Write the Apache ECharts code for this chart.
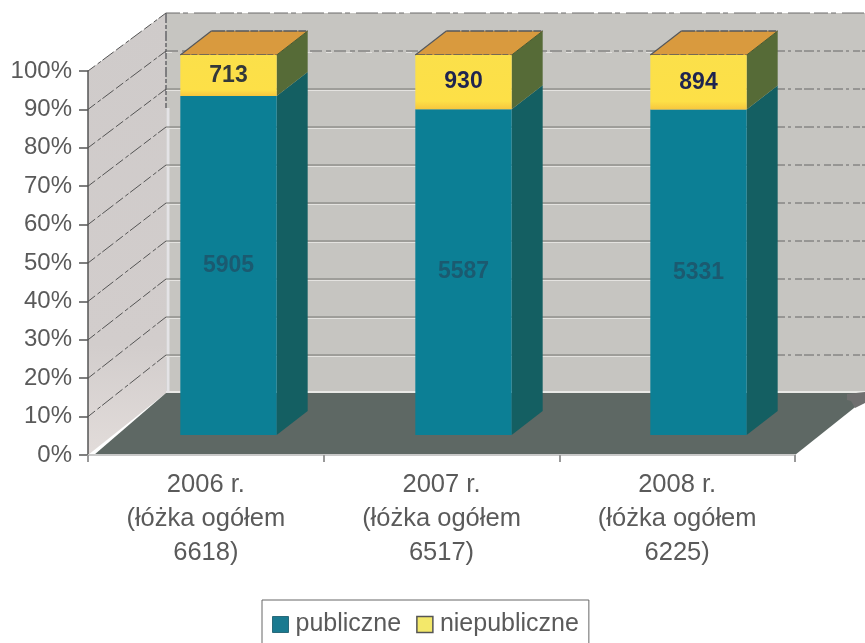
<!DOCTYPE html>
<html><head><meta charset="utf-8">
<style>html,body{margin:0;padding:0;background:#fff}#c{width:865px;height:643px}</style>
<script src="https://cdn.jsdelivr.net/npm/echarts@6/dist/echarts.min.js"></script>
</head><body><div id="c"></div>
<script>
const categories = ['2006 r.\n(łóżka ogółem\n6618)', '2007 r.\n(łóżka ogółem\n6517)', '2008 r.\n(łóżka ogółem\n6225)'];
const publiczne = [5905, 5587, 5331];
const niepubliczne = [713, 930, 894];
const yTicks = [0, 10, 20, 30, 40, 50, 60, 70, 80, 90, 100];
const names = ['publiczne', 'niepubliczne'];

const sharePub = publiczne.map((v, i) => v / (v + niepubliczne[i]) * 100);
const shareNon = niepubliczne.map((v, i) => v / (publiczne[i] + v) * 100);

const WALL_DX = 78, WALL_DY_BOTTOM = -62, WALL_DY_TOP = -58, BAR_DX = 31, BAR_DY = -24, BAR_FRAC = 0.41;
const FONT = '"Liberation Sans", Arial, sans-serif';
const GREY = '#5a5a5a';

const poly = (points, fill, stroke, lw) => ({
  type: 'polygon', shape: { points }, silent: true,
  style: { fill, stroke: stroke || null, lineWidth: lw || 0 }
});
const seg = (x1, y1, x2, y2, stroke, lw, dash) => ({
  type: 'line', shape: { x1, y1, x2, y2 }, silent: true,
  style: { stroke, lineWidth: lw, lineDash: dash || null, fill: null }
});

function renderWalls(params, api) {
  const r = params.coordSys;
  const x0 = r.x, x1 = r.x + r.width;
  const yb = api.coord([0, 0])[1], yt = api.coord([0, 100])[1];
  const bx = x0 + WALL_DX;
  const backY = t => {
    const y = api.coord([0, t])[1];
    return y + WALL_DY_BOTTOM + (WALL_DY_TOP - WALL_DY_BOTTOM) * (t / 100);
  };
  const byb = backY(0), byt = backY(100);
  const ch = [
    { type: 'rect', shape: { x: bx, y: byt, width: 865 - bx, height: byb - byt }, silent: true, style: { fill: '#c6c5c1' } },
    poly([[x0, yt], [bx, byt], [bx, byb], [x0, yb]], {
      type: 'linear', x: 0, y: 0, x2: 0, y2: 1,
      colorStops: [{ offset: 0, color: '#cfcbca' }, { offset: 0.75, color: '#d2cdcc' }, { offset: 1, color: '#e2dcda' }]
    }),
    poly([[x0 + 6, yb], [bx, byb], [x1 + WALL_DX, byb], [x1, yb]], '#5e6864'),
    seg(bx, byb - 1, 865, byb - 1, '#e9e9e6', 2),
    seg(bx, byt, bx, backY(75), '#66666a', 1.5, [10, 2, 4, 2]),
    seg(bx + 2, backY(75), bx + 2, byb, '#e4e3e6', 3),
    poly([[847, 394], [865, 392], [865, 403], [855, 408], [851, 401], [847, 400]], '#6f6f6f')
  ];
  yTicks.forEach(t => {
    if (t === 0) return;
    const y = api.coord([0, t])[1], by = backY(t);
    ch.push(seg(x0, y, bx, by, '#555', 1, [9, 3, 4, 2, 14, 3]));
    const upper = t >= 90;
    if (t === 100) {
      ch.push(seg(bx, by, 865, by, '#6a6a6a', 1, [14, 3, 5, 6, 22, 4]));
    } else {
      ch.push(seg(bx, by, 775, by, upper ? '#666' : '#777673', 1, upper ? [12, 4, 5, 3] : null));
      ch.push(seg(bx, by + 1.5, 775, by + 1.5, '#e4e3e0', 1, upper ? [6, 14] : null));
      ch.push(seg(775, by, 865, by, '#666', 1, [10, 3, 3, 4, 7, 2]));
    }
  });
  return { type: 'group', children: ch };
}

function renderSides(params, api) {
  const idx = api.value(0), lo = api.value(1), hi = api.value(2), fill = api.value(3) ? '#566b37' : '#145f62';
  const w = api.size([1, 0])[0] * BAR_FRAC;
  const p0 = api.coord([idx, lo]), p1 = api.coord([idx, hi]);
  const xr = p0[0] + w / 2;
  return poly([[xr, p0[1]], [xr + BAR_DX, p0[1] + BAR_DY], [xr + BAR_DX, p1[1] + BAR_DY], [xr, p1[1]]], fill);
}

function renderTops(params, api) {
  const idx = api.value(0), top = api.value(1);
  const w = api.size([1, 0])[0] * BAR_FRAC;
  const p = api.coord([idx, top]);
  const xl = p[0] - w / 2, xr = p[0] + w / 2, y = p[1];
  return {
    type: 'group', children: [
      poly([[xl, y], [xr, y], [xr + BAR_DX, y + BAR_DY], [xl + BAR_DX, y + BAR_DY]], '#d99a3e'),
      seg(xl + BAR_DX, y + BAR_DY, xr + BAR_DX, y + BAR_DY, '#55585c', 1.5, [14, 1, 8, 1]),
      seg(xl, y, xl + BAR_DX, y + BAR_DY, '#55585c', 1.2),
      seg(xl, y, xr, y, '#55585c', 1.5, [10, 1, 6, 2]),
      seg(xr, y, xr + BAR_DX, y + BAR_DY, '#4a5a30', 1)
    ]
  };
}

const sideData = [];
categories.forEach((c, i) => {
  sideData.push([i, 0, sharePub[i], 0]);
  sideData.push([i, sharePub[i], 100, 1]);
});
const topData = categories.map((c, i) => [i, 100]);

const chart = echarts.init(document.getElementById('c'), null, { renderer: 'canvas' });
chart.setOption({
  animation: false,
  backgroundColor: '#fff',
  textStyle: { fontFamily: FONT },
  legend: {
    data: [
      { name: names[0], itemStyle: { color: '#1a7a90', borderColor: '#2a6a7a', borderWidth: 1 } },
      { name: names[1], itemStyle: { color: '#f3e86a', borderColor: '#555', borderWidth: 1.5 } }
    ],
    left: 262, top: 600, orient: 'horizontal',
    padding: [12, 10, 20, 10], itemGap: 15, itemWidth: 16, itemHeight: 16,
    borderColor: '#666', borderWidth: 1, selectedMode: false, icon: 'rect',
    textStyle: { color: GREY, fontSize: 25, fontFamily: FONT, padding: [0, 0, 0, 2] }
  },
  grid: [
    { left: 88, top: 71, width: 707, height: 384, containLabel: false },
    { left: 111, top: 55, width: 705, height: 380, containLabel: false }
  ],
  xAxis: [
    { type: 'category', gridIndex: 0, data: categories, z: 5,
      axisLine: { lineStyle: { color: '#c9c9c9', width: 2 } },
      axisTick: { show: true, length: 7, lineStyle: { color: '#999', width: 2 } },
      axisLabel: { color: GREY, fontSize: 25.5, lineHeight: 34, margin: 13, fontFamily: FONT, interval: 0 } },
    { type: 'category', gridIndex: 1, data: categories, show: false }
  ],
  yAxis: [
    { type: 'value', gridIndex: 0, min: 0, max: 100, interval: 10, z: 5,
      axisLine: { show: true, lineStyle: { color: '#555', width: 1.5 } },
      axisTick: { show: true, length: 9, lineStyle: { color: '#555', width: 1.5 } },
      splitLine: { show: false },
      axisLabel: { color: GREY, fontSize: 24, margin: 16, fontFamily: FONT,
        formatter: v => v + '%', customValues: yTicks } },
    { type: 'value', gridIndex: 1, min: 0, max: 100, interval: 10, show: false, splitLine: { show: false } }
  ],
  series: [
    { type: 'custom', name: 'walls', xAxisIndex: 0, yAxisIndex: 0, z: 1, silent: true, clip: false,
      renderItem: renderWalls, data: [[0, 0]] },
    { type: 'custom', name: 'sides', xAxisIndex: 1, yAxisIndex: 1, z: 2, silent: true, clip: false,
      renderItem: renderSides, data: sideData },
    { type: 'custom', name: 'tops', xAxisIndex: 1, yAxisIndex: 1, z: 2, silent: true, clip: false,
      renderItem: renderTops, data: topData },
    { type: 'bar', name: names[0], xAxisIndex: 1, yAxisIndex: 1, stack: 's', z: 3,
      barWidth: (BAR_FRAC * 100) + '%', data: sharePub,
      itemStyle: { color: '#0c7f95' },
      label: { show: true, position: 'inside', color: '#1b5a70', fontWeight: 'bold', fontSize: 23, fontFamily: FONT,
        formatter: p => publiczne[p.dataIndex] } },
    { type: 'bar', name: names[1], xAxisIndex: 1, yAxisIndex: 1, stack: 's', z: 3,
      barWidth: (BAR_FRAC * 100) + '%',
      data: shareNon.map((v, i) => i === 0 ? { value: v, label: { color: '#33393a' } } : v),
      itemStyle: { color: {
        type: 'linear', x: 0, y: 0, x2: 0, y2: 1,
        colorStops: [{ offset: 0, color: '#fbe04a' }, { offset: 0.85, color: '#fde047' }, { offset: 1, color: '#f6c63e' }]
      }, borderColor: '#f0c440', borderWidth: 0 },
      label: { show: true, position: 'inside', color: '#1e2450', fontWeight: 'bold', fontSize: 23, fontFamily: FONT,
        formatter: p => niepubliczne[p.dataIndex] } }
  ]
});
</script></body></html>
